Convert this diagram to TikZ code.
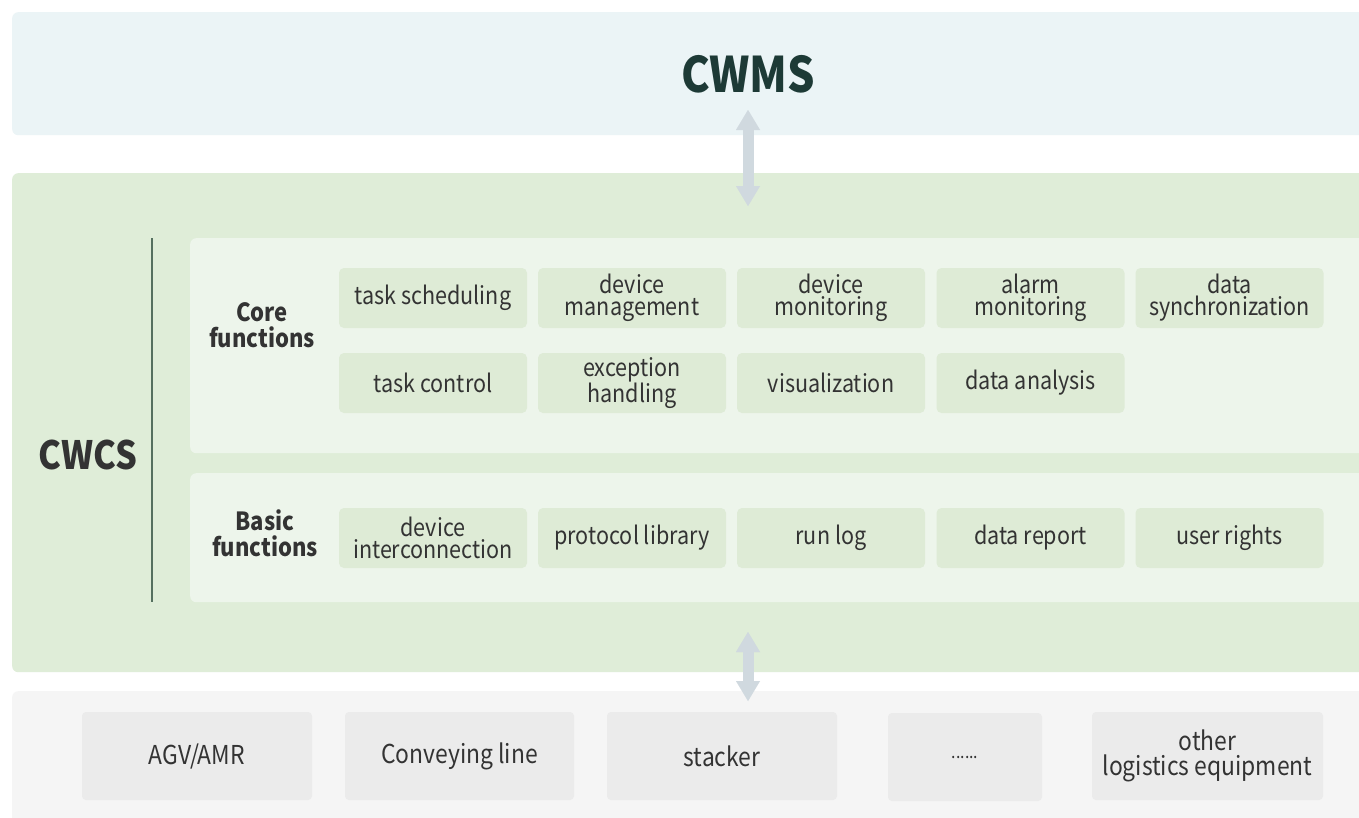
\documentclass[tikz,border=0pt]{standalone}
\usepackage{fontspec}
\setmainfont{Noto Sans CJK SC}[FakeStretch=0.88]
\usetikzlibrary{arrows.meta}
\definecolor{cwmsbg}{HTML}{EBF4F6}
\definecolor{cwcsbg}{HTML}{DFEDD8}
\definecolor{panelbg}{HTML}{EDF5EB}
\definecolor{fboxbg}{HTML}{DEEBD6}
\definecolor{bottombg}{HTML}{F5F5F5}
\definecolor{eqboxbg}{HTML}{EBEBEB}
\definecolor{txt}{HTML}{333333}
\definecolor{cwmstxt}{HTML}{1D3A36}
\definecolor{sepline}{HTML}{55705F}
\definecolor{arrowc}{HTML}{D0D9DF}
\begin{document}
\begin{tikzpicture}[x=1pt,y=-1pt,
  band/.style={fill=#1, draw=none, rounded corners=6pt, anchor=north west, inner sep=0pt},
  fbox/.style={fill=fboxbg, draw=none, rounded corners=5pt, minimum width=188pt, minimum height=60pt,
    inner sep=0pt, align=center, text=txt, font=\fontsize{24.5pt}{22pt}\selectfont},
  eqbox/.style={fill=eqboxbg, draw=none, rounded corners=4pt, minimum width=#1, minimum height=88pt,
    inner sep=0pt, align=center, text=txt, font=\fontsize{26pt}{25pt}\selectfont},
  grouplabel/.style={align=center, text=txt, font=\bfseries\fontsize{25pt}{26pt}\selectfont},
  dblarrow/.style={draw=arrowc, line width=11pt,
    {Triangle[length=20pt,width=24pt,line width=0.01pt]}-{Triangle[length=20pt,width=24pt,line width=0.01pt]}}
]
\useasboundingbox[fill=white] (0,0) rectangle (1359,817);

% bands
\node[band=cwmsbg, minimum width=1360pt, minimum height=123pt] (cwmsband) at (12,12) {};
\node[band=cwcsbg, minimum width=1360pt, minimum height=499pt] (cwcsband) at (12,173) {};
\node[band=bottombg, minimum width=1360pt, minimum height=140pt] (eqband) at (12,691) {};

% inner panels
\node[band=panelbg, minimum width=1180pt, minimum height=215pt] (corepanel) at (190,238) {};
\node[band=panelbg, minimum width=1180pt, minimum height=129pt] (basicpanel) at (190,473) {};

% titles
\node[text=cwmstxt, font=\bfseries\fontsize{49pt}{49pt}\selectfont] (cwms) at (748,74) {CWMS};
\node[text=txt, font=\bfseries\fontsize{39pt}{39pt}\selectfont] (cwcs) at (88,455) {CWCS};

% separator line
\coordinate (sepTop) at (152,238);
\coordinate (sepBot) at (152,602);
\draw[sepline, line width=2pt] (sepTop) -- (sepBot);

% group labels
\node[grouplabel] (corelabel) at (262,325) {Core\\functions};
\node[grouplabel] (basiclabel) at (265,533) {Basic\\functions};

% core functions row 1
\node[fbox] (ts) at (433,298) {task scheduling};
\node[fbox] (dm) at (632,298) {device\\management};
\node[fbox] (dmo) at (831,298) {device\\monitoring};
\node[fbox] (am) at (1030.5,298) {alarm\\monitoring};
\node[fbox] (ds) at (1229.5,298) {data\\synchronization};
% core functions row 2
\node[fbox] (tc) at (433,383) {task control};
\node[fbox] (eh) at (632,383) {exception\\handling};
\node[fbox] (vi) at (831,383) {visualization};
\node[fbox] (da) at (1030.5,383) {data analysis};
% basic functions
\node[fbox] (di) at (433,538) {device\\interconnection};
\node[fbox] (pl) at (632,538) {protocol library};
\node[fbox] (rl) at (831,538) {run log};
\node[fbox] (dr) at (1030.5,538) {data report};
\node[fbox] (ur) at (1229.5,538) {user rights};

% equipment
\node[eqbox=230pt] (agv) at (197,756) {AGV/AMR};
\node[eqbox=229pt] (conv) at (459.5,756) {Conveying line};
\node[eqbox=230pt] (stk) at (722,756) {stacker};
\node[eqbox=154pt] (dots) at (965,757) {\fontsize{18pt}{18pt}\selectfont ......};
\node[eqbox=231pt] (other) at (1207.5,756) {other\\logistics equipment};

% arrows
\coordinate (a1top) at (748,110);
\coordinate (a1bot) at (748,206);
\coordinate (a2top) at (748,632);
\coordinate (a2bot) at (748,701);
\draw[dblarrow] (a1top) -- (a1bot);
\draw[dblarrow] (a2top) -- (a2bot);
\end{tikzpicture}
\end{document}
